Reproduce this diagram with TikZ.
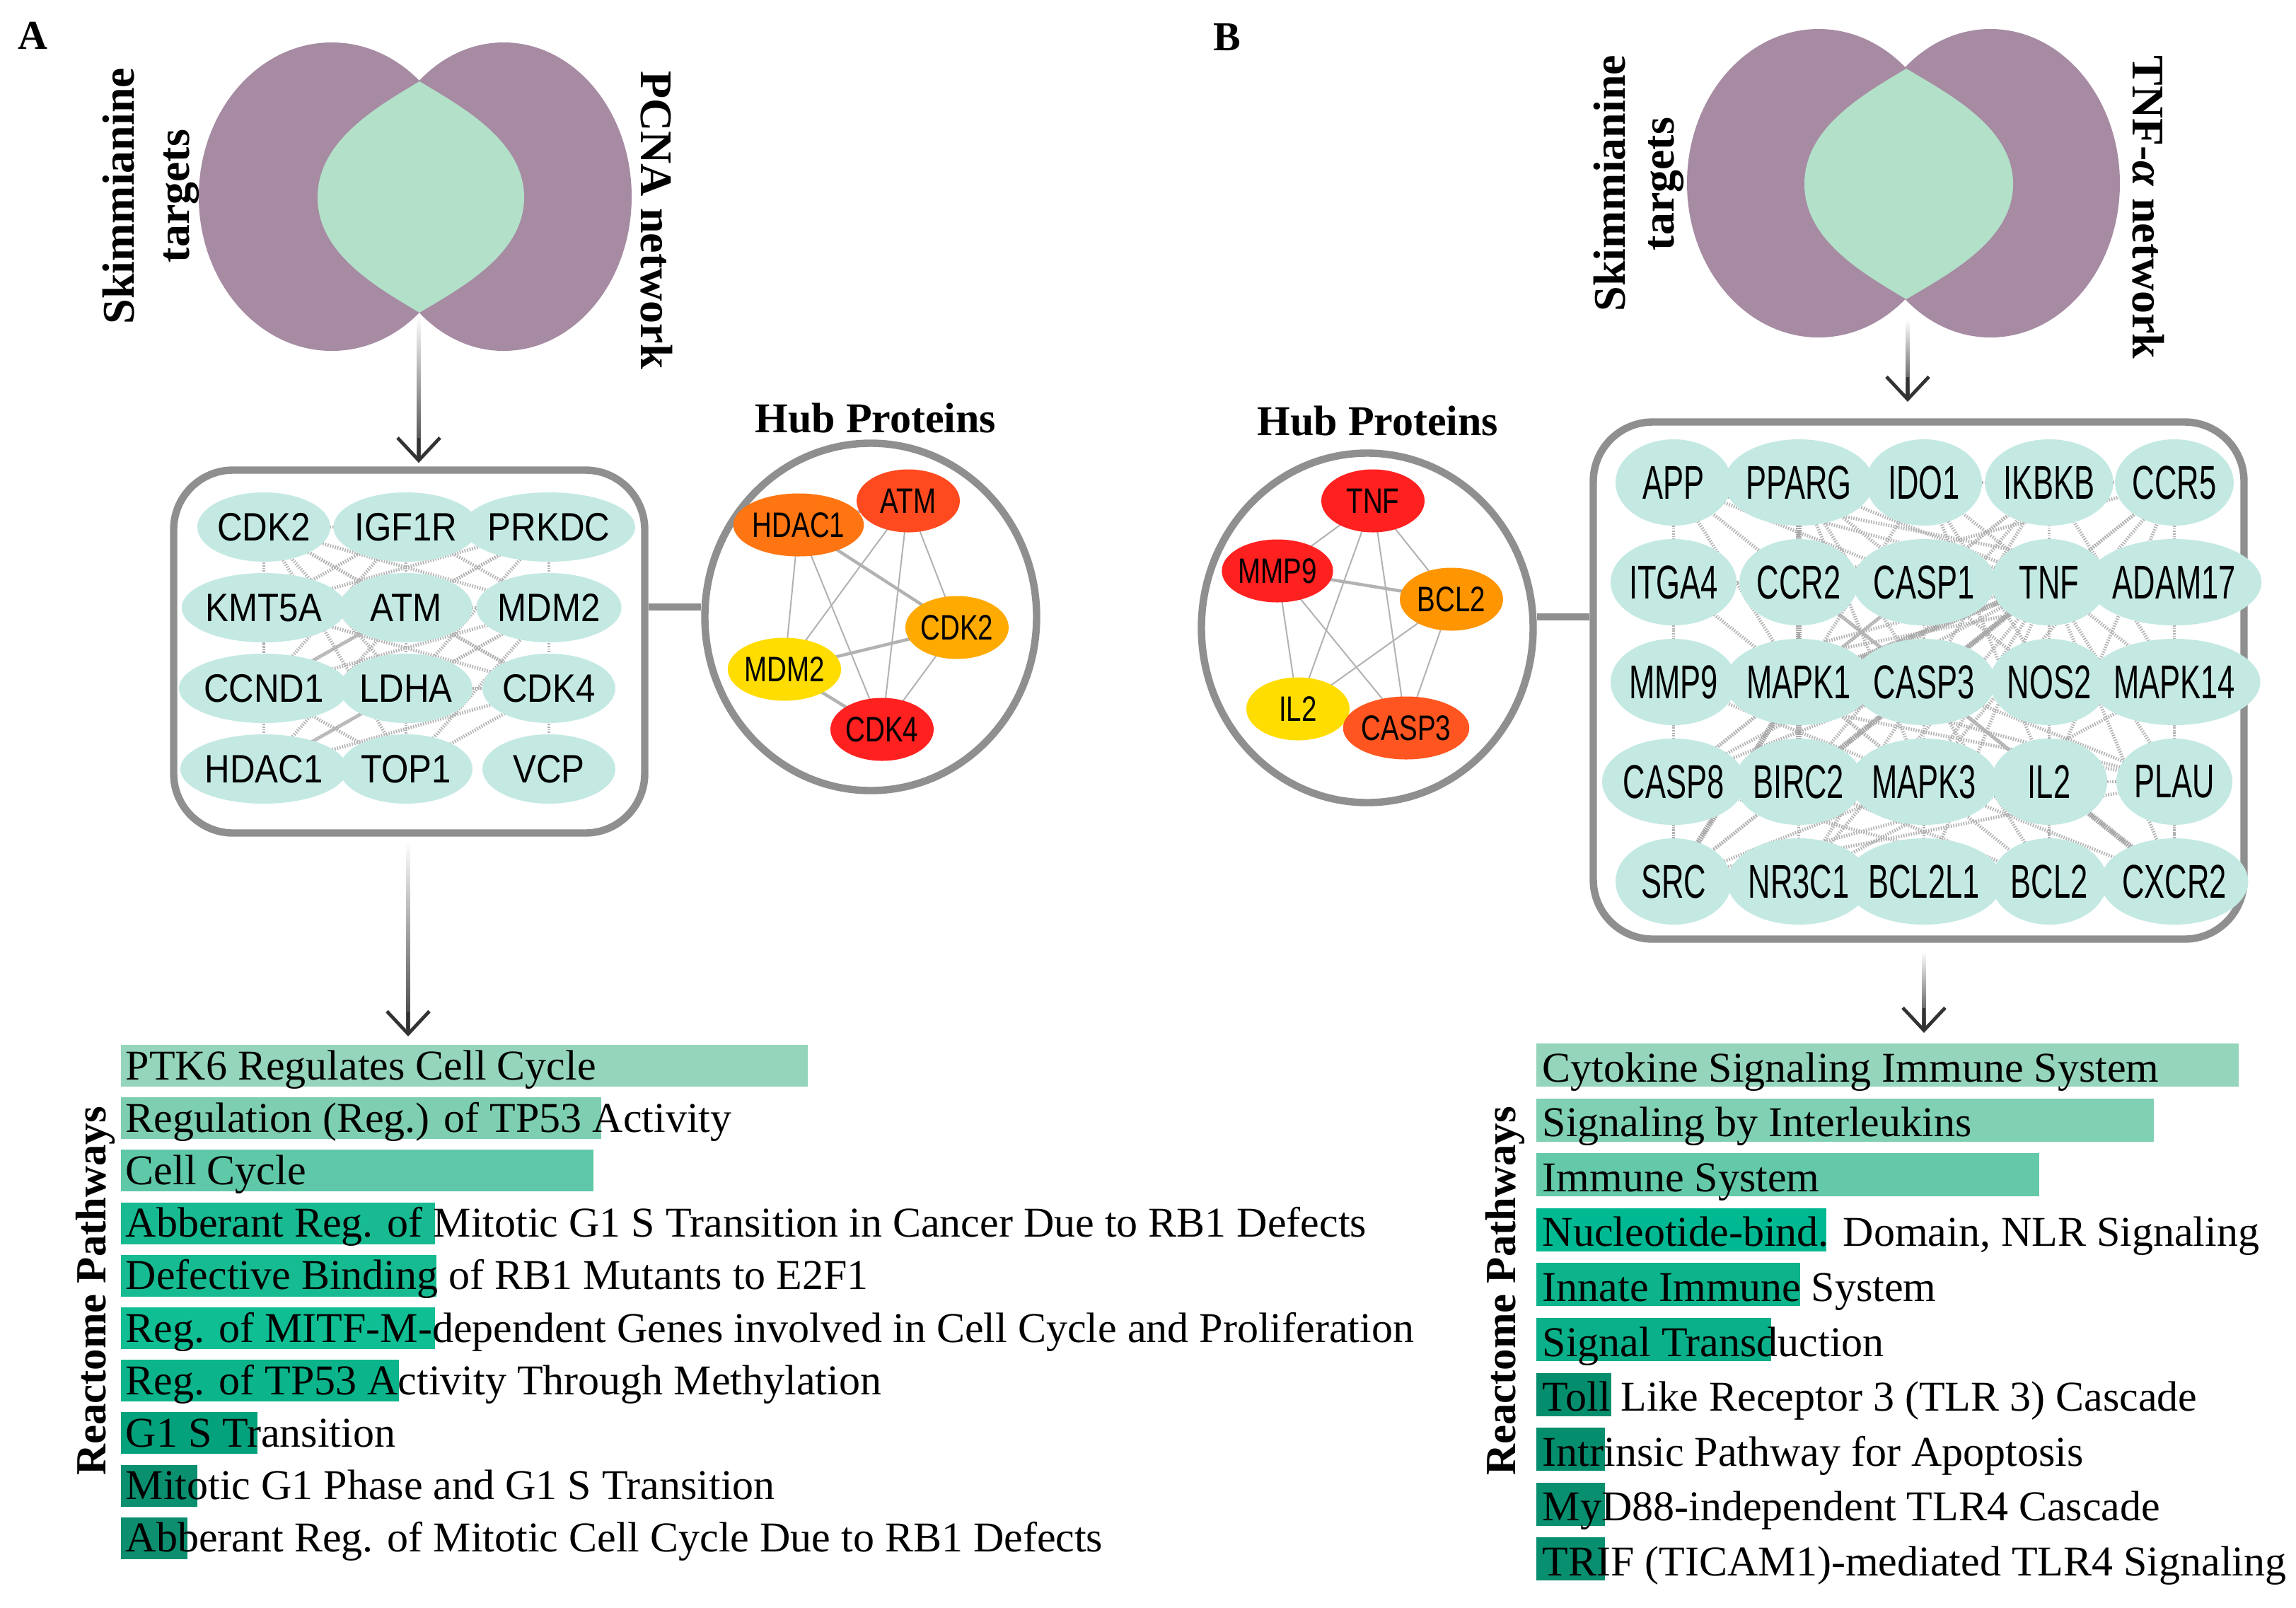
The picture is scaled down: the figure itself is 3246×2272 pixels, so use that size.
\documentclass[tikz,border=0pt]{standalone}
\usepackage{fontspec}
\setmainfont{Liberation Serif}
\newfontfamily\boxAfont[FakeStretch=0.88]{Liberation Sans}
\newfontfamily\boxBfont[FakeStretch=0.65]{Liberation Sans}
\newfontfamily\hubfont[FakeStretch=0.77]{Liberation Sans}
\usetikzlibrary{arrows.meta,calc,backgrounds,shapes.geometric}
\definecolor{venpurple}{HTML}{A68BA3}
\definecolor{vengreen}{HTML}{B3E0C8}
\definecolor{nodecyan}{HTML}{C4E9E3}
\definecolor{framegray}{HTML}{8F8F8F}
\definecolor{hOrange}{HTML}{FF7512}
\definecolor{hRedOr}{HTML}{FF4A20}
\definecolor{hAmber}{HTML}{FFAA00}
\definecolor{hYellow}{HTML}{FFDD00}
\definecolor{hRed}{HTML}{FF2020}
\definecolor{hOr2}{HTML}{FF9500}
\definecolor{hRedOr2}{HTML}{FF5520}
\definecolor{rA1}{HTML}{94D5BB}
\definecolor{rA2}{HTML}{7ECFB1}
\definecolor{rA3}{HTML}{5EC8A8}
\definecolor{rA4}{HTML}{18BA92}
\definecolor{rA5}{HTML}{16BB92}
\definecolor{rA6}{HTML}{10BE94}
\definecolor{rA7}{HTML}{0BB48B}
\definecolor{rA8}{HTML}{04A27C}
\definecolor{rA9}{HTML}{0A8F6F}
\definecolor{rA10}{HTML}{0C8E6F}
\definecolor{rB1}{HTML}{94D5BB}
\definecolor{rB2}{HTML}{80D0B4}
\definecolor{rB3}{HTML}{63C9A9}
\definecolor{rB4}{HTML}{00B891}
\definecolor{rB5}{HTML}{0CB38B}
\definecolor{rB6}{HTML}{0AB089}
\definecolor{rB7}{HTML}{048E6E}
\definecolor{rB8}{HTML}{058E6E}
\definecolor{rB9}{HTML}{078F6F}
\definecolor{rB10}{HTML}{078F6F}
\begin{document}
\begin{tikzpicture}[x=0.25pt, y=-0.25pt,
  frame/.style={draw=framegray, line width=2.6pt, inner sep=0pt},
  conn/.style={draw=framegray, line width=2.6pt},
  panel/.style={anchor=base west, inner sep=0pt, font=\bfseries\fontsize{14.5}{14.5}\selectfont},
  venlab/.style={inner sep=0pt, anchor=base, font=\bfseries\fontsize{16}{16}\selectfont},
  hubtitle/.style={inner sep=0pt, anchor=base, font=\bfseries\fontsize{15}{15}\selectfont},
  netA/.style={ellipse, fill=nodecyan, minimum width=47pt, minimum height=24.5pt, inner sep=0pt, font=\boxAfont\fontsize{14}{14}\selectfont},
  netB/.style={ellipse, fill=nodecyan, minimum width=41pt, minimum height=30.5pt, inner sep=0pt, font=\boxBfont\fontsize{16.75}{16.75}\selectfont},
  hub/.style={ellipse, minimum width=36.5pt, minimum height=22.25pt, inner sep=0pt, font=\hubfont\fontsize{12.5}{12.5}\selectfont},
  netedge/.style={draw=gray!60, line width=1.2pt, dash pattern=on 0.4pt off 0.5pt},
  netthick/.style={draw=gray!70, line width=2pt, dash pattern=on 0.45pt off 0.3pt},
  hubedge/.style={draw=gray!60, line width=0.5pt},
  hubthick/.style={draw=gray!60, line width=1.1pt},
  arrowhead/.style={draw=black!80, line width=1.2pt, -{Straight Barb[length=8pt,width=15pt]}},
  rtext/.style={anchor=base west, inner sep=0pt, font=\fontsize{15}{15}\selectfont},
  ylab/.style={rotate=90, anchor=base, inner sep=0pt, font=\bfseries\fontsize{15.2}{15.2}\selectfont}
]
\useasboundingbox (0,0) rectangle (3246,2272);
\begin{scope}[on background layer]
\fill[white] (0,0) rectangle (3246,2272);
\end{scope}

% panel letters
\node[panel] (lblA) at (25,69) {A};
\node[panel] (lblB) at (1715,71) {B};

% ---------- Venn A ----------
\fill[venpurple] (469,278) ellipse [x radius=188, y radius=218];
\fill[venpurple] (712,278) ellipse [x radius=181, y radius=218];
\fill[vengreen] (593,115) .. controls (533,151) and (449,199) .. (449,279)
  .. controls (449,359) and (533,406) .. (593,442)
  .. controls (653,406) and (741,359) .. (741,279)
  .. controls (741,199) and (653,151) .. (593,115) -- cycle;
\node[venlab, rotate=90] (skA) at (189,277) {Skimmianine};
\node[venlab, rotate=90] (tgA) at (267,277) {targets};
\node[venlab, rotate=-90] (pcna) at (906,311) {PCNA network};
\coordinate (vA) at (592,446);

% ---------- Venn B ----------
\fill[venpurple] (2571,259) ellipse [x radius=186, y radius=218];
\fill[venpurple] (2814,259) ellipse [x radius=183, y radius=218];
\fill[vengreen] (2695,97) .. controls (2635,133) and (2551,180) .. (2551,260)
  .. controls (2551,340) and (2635,387) .. (2695,423)
  .. controls (2755,387) and (2846,340) .. (2846,260)
  .. controls (2846,180) and (2755,133) .. (2695,97) -- cycle;
\node[venlab, rotate=90] (skB) at (2297,259) {Skimmianine};
\node[venlab, rotate=90] (tgB) at (2366,260) {targets};
\node[venlab, rotate=-90] (tnfa) at (3015,293) {TNF-\textit{α} network};
\coordinate (vB) at (2697,452);

% ---------- boxes and hub circles ----------
\node[frame, rounded corners=21pt, minimum width=166.5pt, minimum height=128.25pt] (boxA) at (578.5,921) {};
\node[frame, rounded corners=21pt, minimum width=230pt, minimum height=182.75pt] (boxB) at (2712.5,962) {};
\node[frame, ellipse, minimum width=117.25pt, minimum height=122.75pt] (hubA) at (1231,872) {};
\node[frame, ellipse, minimum width=117.25pt, minimum height=123.5pt] (hubB) at (1933,887.5) {};
\coordinate (jA) at (950,858);
\draw[conn] (jA -| boxA.east) -- (jA -| hubA.west);
\coordinate (jB) at (2210,872);
\draw[conn] (jB -| hubB.east) -- (jB -| boxB.west);
\node[hubtitle] (htA) at (1238,611) {Hub Proteins};
\node[hubtitle] (htB) at (1948,615) {Hub Proteins};

% ---------- network A ----------
\node[netA] (aCDK2) at (373,745) {CDK2};
\node[netA] (aIGF) at (574,745) {IGF1R};
\node[netA] (aPRK) at (776,745) {PRKDC};
\node[netA] (aKMT) at (373,859) {KMT5A};
\node[netA] (aATM) at (574,859) {ATM};
\node[netA] (aMDM) at (776,859) {MDM2};
\node[netA] (aCCN) at (373,973) {CCND1};
\node[netA] (aLDH) at (574,973) {LDHA};
\node[netA] (aCDK4) at (776,973) {CDK4};
\node[netA] (aHDA) at (373,1087) {HDAC1};
\node[netA] (aTOP) at (574,1087) {TOP1};
\node[netA] (aVCP) at (776,1087) {VCP};
\begin{scope}[on background layer]
\foreach \u/\v in {aCDK2/aKMT,aKMT/aCCN,aCCN/aHDA,aPRK/aMDM,aMDM/aCDK4,aCDK4/aVCP,
  aCDK2/aIGF,aIGF/aPRK,aLDH/aCDK4,aHDA/aTOP,aCDK2/aATM,aCDK2/aMDM,aCDK2/aLDH,aCDK2/aCDK4,
  aCDK2/aCCN,aCDK2/aTOP,aIGF/aATM,aIGF/aMDM,aIGF/aCCN,aIGF/aKMT,aPRK/aATM,aPRK/aKMT,
  aPRK/aCCN,aPRK/aLDH,aKMT/aATM,aKMT/aCDK4,aATM/aMDM,aATM/aCDK4,aATM/aCCN,aATM/aHDA,
  aATM/aTOP,aATM/aLDH,aMDM/aCCN,aMDM/aHDA,aMDM/aLDH,aMDM/aTOP,aCCN/aCDK4,aCCN/aLDH,
  aCCN/aTOP,aLDH/aHDA,aCDK4/aHDA,aCDK4/aTOP}
  \draw[netedge] (\u.center) -- (\v.center);
\end{scope}

% ---------- hub A ----------
\node[hub, fill=hOrange] (hHDA) at (1129,742) {HDAC1};
\node[hub, fill=hRedOr] (hATM) at (1284,708) {ATM};
\node[hub, fill=hAmber] (hCDK2) at (1353,887) {CDK2};
\node[hub, fill=hYellow] (hMDM) at (1109,946) {MDM2};
\node[hub, fill=hRed] (hCDK4) at (1247,1031) {CDK4};
\begin{scope}[on background layer]
\foreach \u/\v in {hHDA/hMDM,hHDA/hCDK4,hATM/hMDM,hATM/hCDK4,hATM/hCDK2,hCDK2/hCDK4}
  \draw[hubedge] (\u.center) -- (\v.center);
\foreach \u/\v in {hHDA/hATM,hHDA/hCDK2,hMDM/hCDK2,hMDM/hCDK4}
  \draw[hubthick] (\u.center) -- (\v.center);
\end{scope}

% ---------- network B ----------
\foreach \n/\t/\x/\y in {
  bAPP/APP/2366/682, bPPARG/PPARG/2543/682, bIDO/IDO1/2720/682, bIKBKB/IKBKB/2897/682, bCCR5/CCR5/3074/682,
  bITGA/ITGA4/2366/823, bCCR2/CCR2/2543/823, bCASP1/CASP1/2720/823, bTNF/TNF/2897/823, bADAM/ADAM17/3074/823,
  bMMP9/MMP9/2366/964, bMAPK1/MAPK1/2543/964, bCASP3/CASP3/2720/964, bNOS2/NOS2/2897/964, bMAPK14/MAPK14/3074/964,
  bCASP8/CASP8/2366/1105, bBIRC2/BIRC2/2543/1105, bMAPK3/MAPK3/2720/1105, bIL2/IL2/2897/1105, bPLAU/PLAU/3074/1105,
  bSRC/SRC/2366/1246, bNR3C1/NR3C1/2543/1246, bBCL2L1/BCL2L1/2720/1246, bBCL2/BCL2/2897/1246, bCXCR2/CXCR2/3074/1246}
  \node[netB] (\n) at (\x,\y) {\t};
\begin{scope}[on background layer]
\foreach \v in {bAPP,bPPARG,bIDO,bIKBKB,bCCR5,bITGA,bCCR2,bCASP1,bADAM,bMMP9,bMAPK1,bCASP3,bNOS2,
  bMAPK14,bCASP8,bBIRC2,bMAPK3,bIL2,bPLAU,bSRC,bNR3C1,bBCL2L1,bBCL2,bCXCR2}
  \draw[netedge] (bTNF.center) -- (\v.center);
\foreach \v in {bCASP8,bCASP1,bBCL2,bBCL2L1,bMAPK1,bMAPK3,bMAPK14,bAPP,bPPARG,bMMP9,bSRC,bNOS2,bIL2,bIKBKB,bNR3C1,bCCR5,bCXCR2,bPLAU}
  \draw[netedge] (bCASP3.center) -- (\v.center);
\foreach \v in {bMAPK3,bMAPK14,bSRC,bMMP9,bPPARG,bBCL2,bCASP8,bITGA,bIKBKB,bNR3C1,bAPP,bIDO,bCCR2,bPLAU}
  \draw[netedge] (bMAPK1.center) -- (\v.center);
\foreach \u/\v in {bAPP/bITGA,bITGA/bMMP9,bMMP9/bCASP8,bCASP8/bSRC,bCCR5/bADAM,bADAM/bMAPK14,
  bMAPK14/bPLAU,bPLAU/bCXCR2,bIDO/bIKBKB,bIKBKB/bCCR5,bNR3C1/bBCL2L1,bBCL2L1/bBCL2,bAPP/bPPARG,
  bMAPK3/bSRC,bMAPK3/bMMP9,bMAPK3/bBCL2L1,bMAPK3/bPLAU,bMAPK3/bCXCR2,bMAPK3/bCCR5,bMAPK3/bPPARG,
  bIL2/bCCR5,bIL2/bCCR2,bIL2/bNOS2,bIL2/bBCL2,bIL2/bSRC,bIL2/bIDO,bCCR2/bCCR5,bCCR2/bCXCR2,
  bCASP1/bCASP8,bCASP1/bIKBKB,bCASP1/bAPP,bNOS2/bPPARG,bNOS2/bIDO,bNOS2/bMMP9,bBCL2/bBIRC2,
  bBCL2/bCASP8,bBCL2/bNR3C1,bSRC/bITGA,bSRC/bPLAU,bSRC/bBCL2,bMMP9/bPLAU,bMMP9/bADAM,
  bMAPK14/bIKBKB,bMAPK14/bNR3C1,bBIRC2/bCASP8,bBIRC2/bIKBKB,bPPARG/bIKBKB,bAPP/bADAM,bADAM/bCXCR2}
  \draw[netedge] (\u.center) -- (\v.center);
\foreach \u/\v in {bCASP3/bBIRC2,bTNF/bCASP3,bSRC/bMAPK1,bIL2/bCXCR2,bTNF/bMAPK1,bBIRC2/bPPARG}
  \draw[netthick] (\u.center) -- (\v.center);
\end{scope}

% ---------- hub B ----------
\node[hub, fill=hRed] (gTNF) at (1941,708) {TNF};
\node[hub, fill=hRed] (gMMP9) at (1806,807) {MMP9};
\node[hub, fill=hOr2] (gBCL2) at (2052,847) {BCL2};
\node[hub, fill=hYellow] (gIL2) at (1835,1002) {IL2};
\node[hub, fill=hRedOr2] (gCASP3) at (1988,1029) {CASP3};
\begin{scope}[on background layer]
\foreach \u/\v in {gTNF/gMMP9,gTNF/gBCL2,gTNF/gIL2,gTNF/gCASP3,gMMP9/gIL2,gMMP9/gCASP3,gBCL2/gIL2,gBCL2/gCASP3}
  \draw[hubedge] (\u.center) -- (\v.center);
\foreach \u/\v in {gMMP9/gBCL2,gIL2/gCASP3}
  \draw[hubthick] (\u.center) -- (\v.center);
\end{scope}

% ---------- arrows ----------
\coordinate (tA1) at (vA |- boxA.north);
\shade[top color=white, bottom color=black!75] ($(vA)+(-2.5,0)$) rectangle ($(tA1)+(2.5,-14)$);
\draw[arrowhead] ($(tA1)+(0,-40)$) -- ($(tA1)+(0,-5)$);

\coordinate (sA2) at (577,1190);
\coordinate (tA2) at (577,1465);
\shade[top color=white, bottom color=black!75] ($(sA2)+(-2.5,0)$) rectangle ($(tA2)+(2.5,-10)$);
\draw[arrowhead] ($(tA2)+(0,-35)$) -- (tA2);

\coordinate (tB1) at (2697,568);
\shade[top color=white, bottom color=black!75] ($(vB)+(-2.5,0)$) rectangle ($(tB1)+(2.5,-10)$);
\draw[arrowhead] ($(tB1)+(0,-35)$) -- (tB1);

\coordinate (sB2) at (2720,1345);
\coordinate (tB2) at (2720,1460);
\shade[top color=white, bottom color=black!75] ($(sB2)+(-2.5,0)$) rectangle ($(tB2)+(2.5,-10)$);
\draw[arrowhead] ($(tB2)+(0,-35)$) -- (tB2);

% ---------- Reactome A ----------
\foreach \i/\r/\t in {1/1142/{PTK6 Regulates Cell Cycle},
  2/850/{Regulation (Reg.) of TP53 Activity},
  3/839/{Cell Cycle},
  4/615/{Abberant Reg. of Mitotic G1 S Transition in Cancer Due to RB1 Defects},
  5/617/{Defective Binding of RB1 Mutants to E2F1},
  6/615/{Reg. of MITF-M-dependent Genes involved in Cell Cycle and Proliferation},
  7/564/{Reg. of TP53 Activity Through Methylation},
  8/364/{G1 S Transition},
  9/279/{Mitotic G1 Phase and G1 S Transition},
  10/265/{Abberant Reg. of Mitotic Cell Cycle Due to RB1 Defects}}{
  \fill[rA\i] (171,{1477+74.2*(\i-1)}) rectangle (\r,{1536+74.2*(\i-1)});
  \node[rtext] (ra\i) at (177,{1526+74.2*(\i-1)}) {\t};
}
\node[ylab] (rpA) at (149,1825) {Reactome Pathways};

% ---------- Reactome B ----------
\foreach \i/\r/\t in {1/3165/{Cytokine Signaling Immune System},
  2/3045/{Signaling by Interleukins},
  3/2883/{Immune System},
  4/2582/{Nucleotide-bind. Domain, NLR Signaling},
  5/2545/{Innate Immune System},
  6/2504/{Signal Transduction},
  7/2278/{Toll Like Receptor 3 (TLR 3) Cascade},
  8/2269/{Intrinsic Pathway for Apoptosis},
  9/2269/{MyD88-independent TLR4 Cascade},
  10/2269/{TRIF (TICAM1)-mediated TLR4 Signaling}}{
  \fill[rB\i] (2172,{1475+77.6*(\i-1)}) rectangle (\r,{1536+77.6*(\i-1)});
  \node[rtext] (rb\i) at (2180,{1529+77.6*(\i-1)}) {\t};
}
\node[ylab] (rpB) at (2142,1825) {Reactome Pathways};
\end{tikzpicture}
\end{document}
